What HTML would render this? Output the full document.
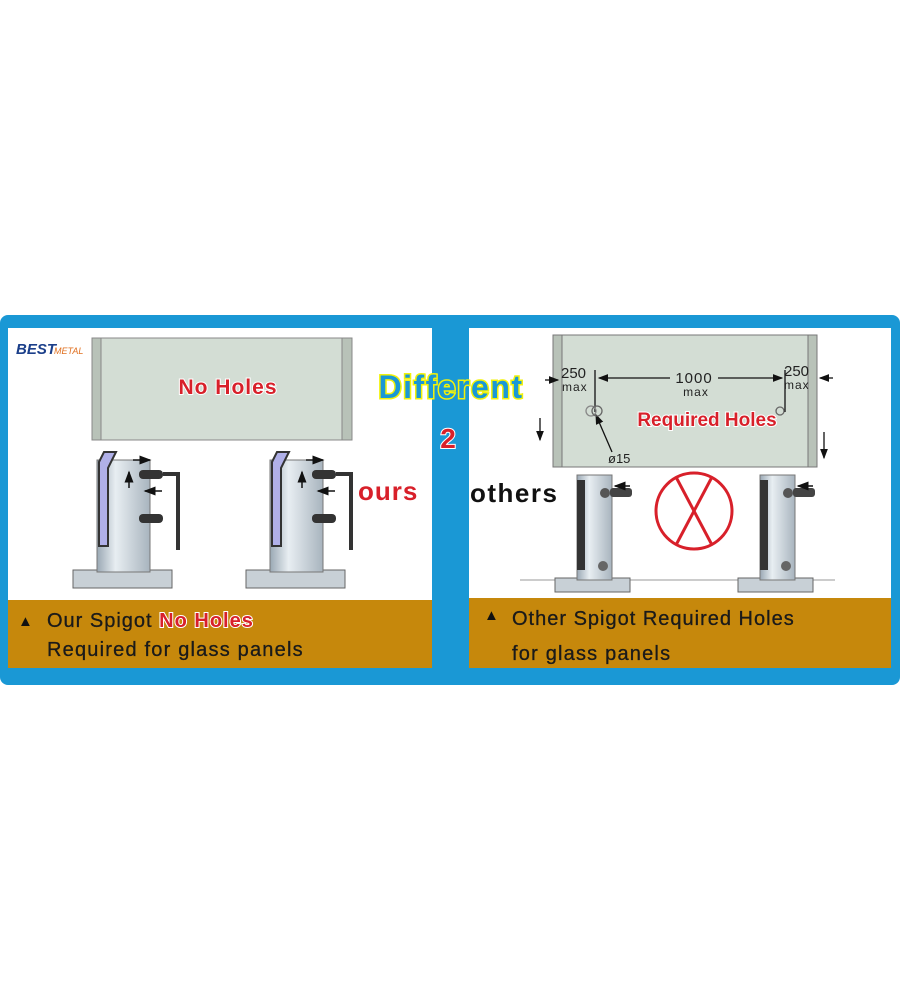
<!DOCTYPE html>
<html><head><meta charset="utf-8"><style>
body{margin:0;background:#fff;width:900px;height:1000px;overflow:hidden}
svg{display:block}
text{font-family:"Liberation Sans",sans-serif}
</style></head><body>
<svg width="900" height="1000" viewBox="0 0 900 1000">
<defs>
<linearGradient id="cyl" x1="0" x2="1"><stop offset="0" stop-color="#9aa8b4"/><stop offset=".35" stop-color="#e8eef2"/><stop offset="1" stop-color="#a8b4be"/></linearGradient>
<marker id="ah" markerWidth="8" markerHeight="8" refX="7" refY="4" orient="auto"><path d="M0,1 L8,4 L0,7z" fill="#111"/></marker>
</defs>
<rect x="0" y="315" width="900" height="370" rx="8" fill="#1a98d5"/>
<!-- left panel -->
<rect x="8" y="328" width="424" height="340" fill="#fff"/>
<rect x="8" y="600" width="424" height="68" fill="#c6880c"/>
<text x="16" y="354" font-size="15" font-weight="bold" font-style="italic" fill="#1b3f8a">BEST</text>
<text x="54" y="354" font-size="9" font-style="italic" fill="#e07020">METAL</text>
<rect x="92" y="338" width="260" height="102" fill="#d3ddd4" stroke="#888"/>
<rect x="92" y="338" width="9" height="102" fill="#b8c2b8" stroke="#888"/>
<rect x="342" y="338" width="10" height="102" fill="#b8c2b8" stroke="#888"/>
<text x="228" y="394" font-size="21" font-weight="bold" fill="#d8202a" stroke="#fff" stroke-width="2" paint-order="stroke" text-anchor="middle" letter-spacing="1">No Holes</text>
<g id="sp">
<rect x="73" y="570" width="99" height="18" fill="#c8d0d6" stroke="#666"/>
<rect x="97" y="460" width="53" height="112" fill="url(#cyl)" stroke="#777"/>
<path d="M99,462 L104,452 L116,452 L108,468 L108,546 L99,546z" fill="#b0b0e8" stroke="#333" stroke-width="2"/>
<line x1="133" y1="460" x2="150" y2="460" stroke="#111" stroke-width="1.5" marker-end="url(#ah)"/>
<line x1="129" y1="488" x2="129" y2="472" stroke="#111" stroke-width="1.5" marker-end="url(#ah)"/>
<line x1="162" y1="491" x2="145" y2="491" stroke="#111" stroke-width="1.5" marker-end="url(#ah)"/>
<rect x="139" y="470" width="24" height="9" rx="4" fill="#333"/>
<rect x="139" y="514" width="24" height="9" rx="4" fill="#333"/>
<path d="M163,474 L178,474 L178,550" fill="none" stroke="#333" stroke-width="4"/>
</g>
<use href="#sp" transform="translate(173,0)"/>
<text x="358" y="500" font-size="26" font-weight="bold" fill="#d8202a" letter-spacing="1">ours</text>
<text x="18" y="626" font-size="15" fill="#111">▲</text>
<text x="47" y="627" font-size="20" fill="#1a1a1a" stroke="#1a1a1a" stroke-width="0.3" letter-spacing="1">Our Spigot <tspan fill="#d8202a" stroke="#fff" stroke-width="2" paint-order="stroke" font-weight="bold">No Holes</tspan></text>
<text x="47" y="656" font-size="20" fill="#1a1a1a" stroke="#1a1a1a" stroke-width="0.3" letter-spacing="1.2">Required for glass panels</text>
<!-- right panel -->
<rect x="469" y="328" width="422" height="340" fill="#fff"/>
<rect x="469" y="598" width="422" height="70" fill="#c6880c"/>
<rect x="553" y="335" width="264" height="132" fill="#d3ddd4" stroke="#777"/>
<rect x="553" y="335" width="9" height="132" fill="#b8c2b8" stroke="#777"/>
<rect x="808" y="335" width="9" height="132" fill="#b8c2b8" stroke="#777"/>
<g stroke="#111" stroke-width="1.3" fill="none">
<line x1="545" y1="380" x2="558" y2="380" marker-end="url(#ah)"/>
<line x1="595" y1="370" x2="595" y2="412"/>
<line x1="785" y1="370" x2="785" y2="412"/>
<line x1="670" y1="378" x2="599" y2="378" marker-end="url(#ah)"/>
<line x1="718" y1="378" x2="782" y2="378" marker-end="url(#ah)"/>
<line x1="833" y1="378" x2="820" y2="378" marker-end="url(#ah)"/>
<line x1="540" y1="418" x2="540" y2="440" marker-end="url(#ah)"/>
<line x1="824" y1="432" x2="824" y2="458" marker-end="url(#ah)"/>
<line x1="612" y1="452" x2="596" y2="415" marker-end="url(#ah)"/>
<circle cx="591" cy="411" r="5" stroke="#888"/><circle cx="597" cy="411" r="5" stroke="#666"/>
<circle cx="780" cy="411" r="4" stroke="#666"/>
</g>
<text x="561" y="378" font-size="15" fill="#222">250</text>
<text x="562" y="391" font-size="12" fill="#222" letter-spacing="1">max</text>
<text x="694" y="383" font-size="15" fill="#222" text-anchor="middle" letter-spacing="1">1000</text>
<text x="696" y="396" font-size="12" fill="#222" text-anchor="middle" letter-spacing="1">max</text>
<text x="784" y="376" font-size="15" fill="#222">250</text>
<text x="784" y="389" font-size="12" fill="#222" letter-spacing="1">max</text>
<text x="608" y="463" font-size="13" fill="#222">ø15</text>
<text x="707" y="426" font-size="19" font-weight="bold" fill="#d8202a" stroke="#fff" stroke-width="2" paint-order="stroke" text-anchor="middle">Required Holes</text>
<line x1="520" y1="580" x2="835" y2="580" stroke="#999"/>
<g id="sp2">
<rect x="555" y="578" width="75" height="14" fill="#c8d0d6" stroke="#666"/>
<rect x="577" y="475" width="35" height="105" fill="url(#cyl)" stroke="#777"/>
<rect x="577" y="480" width="8" height="90" fill="#333"/>
<circle cx="605" cy="493" r="5" fill="#555"/><rect x="610" y="488" width="22" height="9" rx="3" fill="#444"/>
<circle cx="603" cy="566" r="5" fill="#666"/>
<line x1="630" y1="486" x2="615" y2="486" stroke="#111" stroke-width="1.5" marker-end="url(#ah)"/>
</g>
<use href="#sp2" transform="translate(183,0)"/>
<text x="470" y="502" font-size="26" font-weight="bold" fill="#111" letter-spacing="1.5">others</text>
<circle cx="694" cy="511" r="38" fill="none" stroke="#d8202a" stroke-width="3"/>
<line x1="676" y1="477" x2="712" y2="545" stroke="#d8202a" stroke-width="3"/>
<line x1="712" y1="477" x2="676" y2="545" stroke="#d8202a" stroke-width="3"/>
<text x="484" y="620" font-size="15" fill="#111">▲</text>
<text x="512" y="625" font-size="20" fill="#1a1a1a" stroke="#1a1a1a" stroke-width="0.3" letter-spacing="1">Other Spigot Required Holes</text>
<text x="512" y="660" font-size="20" fill="#1a1a1a" stroke="#1a1a1a" stroke-width="0.3" letter-spacing="1.2">for glass panels</text>
<!-- center -->
<text x="451" y="398" font-size="32" font-weight="bold" fill="#1a98d5" stroke="#f2f20a" stroke-width="3" paint-order="stroke" text-anchor="middle" letter-spacing="1.5">Different</text>
<text x="448" y="448" font-size="28" font-weight="bold" fill="#d8202a" stroke="#fff" stroke-width="2" paint-order="stroke" text-anchor="middle">2</text>
</svg>
</body></html>
